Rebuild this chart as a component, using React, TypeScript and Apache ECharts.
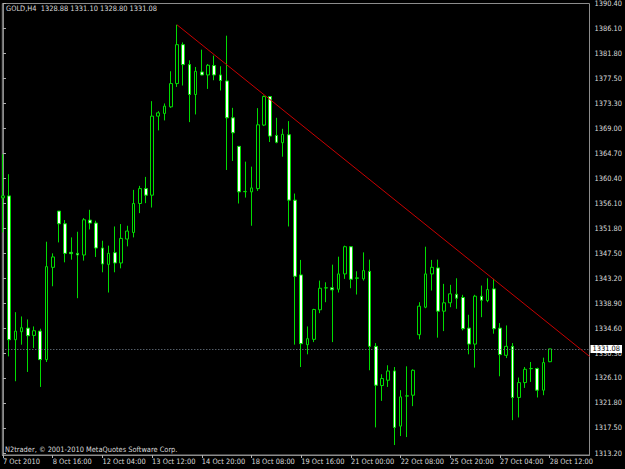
import React, { useEffect, useRef } from "react";
import * as echarts from "echarts";

const symbol = "GOLD,H4";
const copyright = "N2trader, © 2001-2010 MetaQuotes Software Corp.";

const opens = [
  1357.02, 1357.36, 1332.66, 1334.03, 1334.65, 1333.40, 1334.14, 1329.24, 1345.09, 1354.75,
  1352.57, 1347.66, 1347.49, 1347.21, 1353.20, 1352.69, 1348.41, 1345.60, 1347.61, 1345.84,
  1349.95, 1351.08, 1356.05, 1358.61, 1357.48, 1371.06, 1371.52, 1372.65, 1376.65, 1383.33,
  1379.91, 1374.77, 1378.64, 1378.13, 1379.74, 1378.13, 1377.10, 1370.77, 1365.87, 1358.08,
  1358.05, 1358.61, 1369.52, 1374.43, 1367.75, 1366.49, 1367.86, 1356.63, 1343.79, 1331.81,
  1332.72, 1337.80, 1341.55, 1341.57, 1341.33, 1343.96, 1348.63, 1343.20, 1343.11, 1344.41,
  1331.52, 1324.79, 1325.70, 1327.29, 1317.82, 1322.98, 1323.13, 1333.52, 1338.24, 1343.96,
  1344.99, 1337.56, 1339.00, 1340.47, 1339.91, 1334.65, 1331.91, 1340.13, 1339.39, 1341.39,
  1334.65, 1329.98, 1331.52, 1322.74, 1325.30, 1327.68, 1327.70, 1323.99, 1328.88,
];
const highs = [
  1364.50, 1361.08, 1337.39, 1336.65, 1336.14, 1334.94, 1334.55, 1349.49, 1347.49, 1354.75,
  1353.20, 1350.23, 1351.20, 1353.55, 1354.97, 1353.09, 1349.66, 1348.81, 1352.11, 1352.52,
  1352.23, 1358.39, 1359.08, 1360.62, 1373.63, 1371.91, 1373.23, 1378.76, 1386.75, 1383.72,
  1380.64, 1379.50, 1382.47, 1380.01, 1381.45, 1379.62, 1384.87, 1372.48, 1365.87, 1363.24,
  1362.38, 1372.43, 1374.60, 1374.48, 1370.77, 1368.88, 1370.20, 1357.76, 1346.36, 1334.94,
  1337.97, 1342.81, 1342.52, 1345.55, 1346.92, 1348.81, 1348.70, 1344.41, 1347.66, 1346.41,
  1332.08, 1326.72, 1328.27, 1327.97, 1323.99, 1328.09, 1327.58, 1339.10, 1348.63, 1346.36,
  1346.41, 1342.25, 1342.08, 1343.21, 1340.37, 1336.94, 1340.37, 1341.96, 1343.21, 1343.11,
  1335.51, 1335.11, 1332.08, 1326.16, 1327.97, 1328.83, 1327.87, 1329.58, 1331.10,
];
const lows = [
  1351.08, 1329.80, 1325.53, 1331.81, 1327.12, 1331.23, 1324.55, 1328.83, 1341.84, 1349.37,
  1345.95, 1346.41, 1339.79, 1346.24, 1351.60, 1346.87, 1344.24, 1340.76, 1344.24, 1344.92,
  1348.69, 1350.23, 1354.40, 1356.11, 1355.36, 1368.61, 1370.32, 1372.48, 1376.07, 1376.31,
  1370.03, 1371.35, 1378.08, 1375.73, 1377.22, 1375.46, 1361.81, 1363.36, 1356.05, 1357.07,
  1352.23, 1358.22, 1369.35, 1366.61, 1366.39, 1364.09, 1352.11, 1331.81, 1327.97, 1330.15,
  1332.25, 1337.22, 1339.10, 1332.25, 1340.76, 1343.11, 1341.50, 1340.42, 1342.81, 1327.41,
  1317.60, 1322.15, 1324.55, 1314.57, 1316.11, 1315.94, 1321.25, 1332.72, 1338.07, 1341.10,
  1333.01, 1334.14, 1338.24, 1337.97, 1334.26, 1330.15, 1327.87, 1336.53, 1339.10, 1333.69,
  1326.38, 1329.51, 1318.85, 1319.31, 1324.38, 1325.41, 1322.74, 1323.13, 1328.80,
];
const closes = [
  1357.36, 1332.66, 1334.14, 1334.72, 1333.35, 1334.20, 1329.24, 1345.21, 1346.87, 1352.57,
  1347.49, 1347.44, 1347.21, 1353.26, 1352.69, 1348.41, 1345.67, 1347.49, 1345.84, 1350.06,
  1351.32, 1356.05, 1358.61, 1357.48, 1371.06, 1371.62, 1372.77, 1376.65, 1383.33, 1379.91,
  1374.77, 1378.76, 1378.13, 1379.79, 1378.13, 1377.17, 1370.77, 1368.20, 1358.05, 1358.12,
  1358.73, 1369.57, 1374.43, 1367.63, 1366.56, 1367.93, 1356.63, 1343.55, 1331.98, 1332.84,
  1337.85, 1341.50, 1341.58, 1341.22, 1343.96, 1348.63, 1343.04, 1343.28, 1344.53, 1331.52,
  1324.84, 1325.99, 1327.29, 1317.60, 1322.84, 1323.02, 1327.41, 1338.42, 1343.96, 1345.09,
  1337.56, 1339.00, 1340.54, 1339.79, 1334.55, 1331.91, 1340.13, 1339.44, 1341.27, 1334.55,
  1330.10, 1331.52, 1322.74, 1325.30, 1327.58, 1327.72, 1323.99, 1328.73, 1331.08,
];

const xTickIndex = [0, 8, 16, 24, 32, 40, 48, 56, 64, 72, 80, 88];
const xTickLabels = [
  "7 Oct 2010", "8 Oct 16:00", "12 Oct 04:00", "13 Oct 12:00", "14 Oct 20:00", "18 Oct 08:00",
  "19 Oct 16:00", "21 Oct 00:00", "22 Oct 08:00", "25 Oct 20:00", "27 Oct 04:00", "28 Oct 12:00",
];
const yTickValues = [
  1390.4, 1386.1, 1381.8, 1377.5, 1373.3, 1369.0, 1364.7, 1360.4, 1356.1, 1351.8,
  1347.5, 1343.2, 1338.9, 1334.6, 1330.3, 1326.1, 1321.8, 1317.5, 1313.2,
];

const trendStart = [28, 1386.75];
const trendEnd = [94.4, 1329.8];

const FONT = "'DejaVu Sans Condensed', 'DejaVu Sans', sans-serif";
const FS = 7.4;
const TEXT = "#dcdcdc";
const FRAME = "#8c8c8c";
const CANDLE = "#00dd00";

export default function App() {
  const ref = useRef<HTMLDivElement>(null);
  useEffect(() => {
    if (!ref.current) return;
    const chart = echarts.init(ref.current, undefined, { renderer: "svg" });
    const data = opens.map((o, i) => [i, o, closes[i], lows[i], highs[i]]);
    const last = opens.length - 1;
    const header = `${symbol}  ${opens[last].toFixed(2)} ${highs[last].toFixed(2)} ${lows[last].toFixed(2)} ${closes[last].toFixed(2)}`;
    const labelMap: Record<number, string> = {};
    xTickIndex.forEach((v, i) => (labelMap[v] = xTickLabels[i]));
    chart.setOption({
      animation: false,
      backgroundColor: "#000000",
      grid: {
        left: 2, right: 32, top: 2, bottom: 14,
        show: true, borderColor: FRAME, borderWidth: 1, backgroundColor: "transparent",
      },
      xAxis: {
        type: "value",
        min: -0.11,
        max: 94.4,
        axisLine: { show: true, lineStyle: { color: FRAME, width: 1 } },
        axisTick: { show: true, length: 3, customValues: xTickIndex, lineStyle: { color: "#b0b0b0" } },
        axisLabel: {
          customValues: xTickIndex,
          formatter: (v: number) => labelMap[Math.round(v)] ?? "",
          align: "left",
          margin: 3,
          color: TEXT,
          fontFamily: FONT,
          fontSize: FS,
          showMinLabel: true,
          hideOverlap: false,
        },
        splitLine: { show: false },
      },
      yAxis: {
        type: "value",
        position: "right",
        min: 1312.86,
        max: 1390.4,
        axisLine: { show: true, lineStyle: { color: FRAME, width: 1 } },
        axisTick: { show: true, length: 3, customValues: yTickValues, lineStyle: { color: "#b0b0b0" } },
        axisLabel: {
          customValues: yTickValues,
          formatter: (v: number) => v.toFixed(2),
          margin: 5,
          color: TEXT,
          fontFamily: FONT,
          fontSize: FS,
        },
        splitLine: { show: false },
      },
      series: [
        {
          type: "candlestick",
          data,
          barWidth: 3.2,
          itemStyle: {
            color: "#000000",
            color0: "#ffffff",
            borderColor: CANDLE,
            borderColor0: CANDLE,
            borderWidth: 1,
          },
          markLine: {
            silent: true,
            symbol: ["none", "none"],
            animation: false,
            data: [
              {
                yAxis: closes[last],
                lineStyle: { color: "#7d8a99", type: [1, 2], width: 1 },
                label: {
                  show: true,
                  position: "end",
                  distance: 1,
                  formatter: closes[last].toFixed(2),
                  backgroundColor: "#ffffff",
                  color: "#000000",
                  padding: [1, 2, 0, 2],
                  fontFamily: FONT,
                  fontSize: FS,
                },
              },
              [
                {
                  coord: trendStart,
                  lineStyle: { color: "#c80000", type: "solid", width: 1 },
                  label: { show: false },
                },
                { coord: trendEnd },
              ],
            ],
          },
        },
      ],
      graphic: [
        {
          type: "text",
          x: 6,
          y: 8,
          style: { text: header, fill: TEXT, fontFamily: FONT, fontSize: FS, verticalAlign: "middle" },
        },
        {
          type: "text",
          x: 5,
          y: 449,
          style: { text: copyright, fill: TEXT, fontFamily: FONT, fontSize: FS, verticalAlign: "middle" },
        },
      ],
    });
    return () => chart.dispose();
  }, []);
  return (
    <div style={{ position: "fixed", left: 0, top: 0, width: 625, height: 469, background: "#000" }}>
      <div ref={ref} style={{ width: 625, height: 469 }} />
    </div>
  );
}
